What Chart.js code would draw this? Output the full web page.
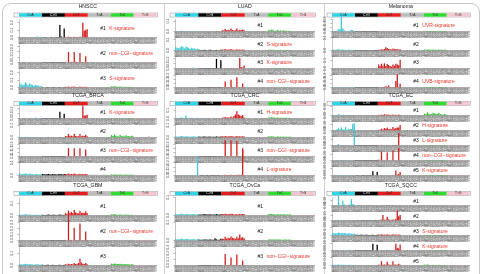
<!DOCTYPE html>
<html lang="en">
<head>
<meta charset="UTF-8">
<title>Mutation signatures per cancer type</title>
<script src="https://cdn.jsdelivr.net/npm/chart.js"></script>
<style>
  html, body { margin: 0; padding: 0; background: #fff; }
  #figure { position: relative; width: 483px; height: 274px; overflow: hidden; }
  #figure canvas { position: absolute; }
  .frame { position: absolute; left: 2px; top: 3px; width: 476px; height: 290px; border: 1px solid #c6c6c6; border-radius: 9px; }
  .vline { position: absolute; top: 4px; width: 1px; height: 270px; background: #d0d0d0; }
</style>
</head>
<body>
<div id="figure">
  <div class="frame"></div>
  <div class="vline" style="left:164px"></div>
  <div class="vline" style="left:324px"></div>
</div>
<script>
// mutation classes and trinucleotide contexts (x axis)
const CLASSES = ['C>A', 'C>G', 'C>T', 'T>A', 'T>C', 'T>G'];
const C_CONTEXTS = ['ACA','ACC','ACG','ACT','CCA','CCC','CCG','CCT','GCA','GCC','GCG','GCT','TCA','TCC','TCG','TCT'];
const T_CONTEXTS = ['ATA','ATC','ATG','ATT','CTA','CTC','CTG','CTT','GTA','GTC','GTG','GTT','TTA','TTC','TTG','TTT'];

// signature profiles, 6 classes x 16 contexts
const HNSCC_1 = [
  [.004,.003,.002,.004,.006,.004,.002,.005,.004,.003,.002,.006,.012,.008,.003,.010],
  [.002,.001,.001,.002,.003,.002,.001,.002,.002,.001,.001,.002,.170,.012,.004,.120],
  [.008,.004,.012,.006,.006,.005,.010,.006,.006,.004,.010,.005,.200,.090,.100,.110],
  [.002,.001,.001,.002,.001,.001,.001,.001,.001,.001,.001,.001,.002,.001,.001,.002],
  [.004,.002,.005,.003,.002,.002,.003,.002,.002,.001,.003,.002,.003,.002,.003,.002],
  [.001,.001,.001,.002,.001,.001,.001,.001,.001,.001,.001,.001,.002,.001,.001,.002]];
const HNSCC_2 = [
  [.006,.004,.008,.004,.005,.004,.006,.004,.005,.003,.006,.004,.004,.003,.005,.003],
  [.002,.001,.002,.001,.002,.001,.002,.001,.001,.001,.002,.001,.002,.001,.002,.002],
  [.012,.006,.200,.010,.014,.008,.200,.012,.010,.006,.180,.008,.010,.006,.120,.010],
  [.002,.001,.001,.002,.001,.001,.001,.001,.001,.001,.001,.001,.002,.001,.001,.002],
  [.012,.005,.010,.008,.004,.004,.006,.004,.006,.003,.006,.004,.005,.003,.004,.004],
  [.001,.001,.001,.001,.001,.001,.001,.001,.001,.001,.001,.001,.001,.001,.001,.001]];
const HNSCC_3 = [
  [.040,.050,.030,.040,.070,.050,.030,.055,.040,.035,.020,.035,.030,.025,.015,.025],
  [.008,.005,.004,.006,.007,.005,.003,.006,.006,.004,.003,.005,.006,.004,.003,.006],
  [.010,.008,.014,.008,.010,.009,.012,.008,.008,.007,.012,.007,.010,.008,.010,.008],
  [.006,.004,.004,.006,.004,.004,.004,.004,.004,.003,.004,.004,.005,.004,.003,.005],
  [.016,.012,.015,.013,.010,.009,.012,.009,.010,.007,.011,.008,.009,.007,.008,.008],
  [.004,.003,.003,.004,.003,.003,.003,.003,.003,.002,.003,.003,.004,.003,.003,.004]];
const LUAD_1 = [
  [.006,.004,.003,.005,.008,.006,.003,.006,.005,.004,.002,.004,.005,.004,.002,.004],
  [.003,.002,.002,.003,.003,.002,.002,.003,.002,.002,.002,.002,.004,.002,.002,.003],
  [.012,.010,.025,.012,.016,.012,.030,.014,.010,.012,.028,.010,.018,.014,.020,.012],
  [.003,.002,.002,.003,.002,.002,.002,.002,.002,.002,.002,.002,.003,.002,.002,.003],
  [.018,.010,.020,.012,.008,.008,.015,.008,.010,.006,.012,.008,.008,.006,.008,.006],
  [.002,.006,.002,.003,.002,.002,.002,.002,.002,.002,.002,.002,.003,.002,.002,.003]];
const LUAD_2 = [
  [.030,.025,.020,.028,.040,.032,.020,.035,.030,.026,.015,.025,.020,.018,.012,.018],
  [.008,.005,.004,.006,.007,.005,.003,.006,.006,.004,.003,.005,.006,.004,.003,.006],
  [.010,.008,.015,.008,.010,.009,.014,.008,.008,.007,.012,.007,.010,.008,.010,.008],
  [.005,.004,.004,.005,.004,.004,.004,.004,.004,.003,.004,.004,.005,.004,.003,.005],
  [.008,.006,.008,.007,.005,.005,.006,.005,.006,.004,.006,.005,.005,.004,.005,.005],
  [.003,.003,.003,.004,.003,.003,.003,.003,.003,.002,.003,.003,.004,.003,.003,.004]];
const LUAD_3 = [
  [.004,.003,.002,.004,.006,.005,.003,.006,.005,.004,.002,.004,.020,.005,.002,.006],
  [.002,.001,.001,.002,.002,.001,.001,.002,.002,.001,.001,.002,.200,.010,.004,.170],
  [.006,.004,.010,.006,.008,.005,.012,.006,.006,.004,.010,.005,.220,.030,.020,.060],
  [.002,.001,.001,.002,.001,.001,.001,.001,.001,.001,.001,.001,.002,.001,.001,.002],
  [.004,.002,.005,.003,.002,.002,.003,.002,.002,.001,.003,.002,.003,.002,.003,.002],
  [.001,.001,.001,.002,.001,.001,.001,.001,.001,.001,.001,.001,.002,.001,.001,.002]];
const LUAD_4 = [
  [.005,.004,.006,.004,.005,.004,.006,.004,.005,.003,.006,.004,.004,.003,.005,.003],
  [.002,.001,.002,.001,.002,.001,.002,.001,.001,.001,.002,.001,.002,.001,.002,.002],
  [.012,.008,.150,.010,.014,.008,.190,.012,.010,.006,.250,.008,.012,.008,.100,.010],
  [.002,.001,.001,.002,.001,.001,.001,.001,.001,.001,.001,.001,.002,.001,.001,.002],
  [.006,.015,.008,.006,.004,.004,.006,.004,.005,.003,.006,.004,.005,.003,.004,.004],
  [.001,.001,.001,.001,.001,.001,.001,.001,.001,.001,.001,.001,.001,.001,.001,.001]];
const MEL_1 = [
  [.010,.010,.015,.020,.050,.060,.360,.070,.040,.010,.008,.010,.020,.040,.035,.010],
  [.002,.002,.002,.002,.003,.002,.002,.002,.002,.002,.002,.002,.003,.002,.002,.002],
  [.004,.004,.006,.015,.005,.004,.006,.005,.004,.004,.006,.004,.005,.012,.005,.004],
  [.002,.001,.001,.002,.001,.001,.001,.001,.001,.001,.001,.001,.002,.001,.001,.002],
  [.003,.002,.003,.003,.002,.002,.003,.002,.002,.002,.003,.002,.002,.002,.002,.002],
  [.001,.001,.001,.002,.001,.001,.001,.001,.001,.001,.001,.001,.002,.001,.001,.002]];
const MEL_2 = [
  [.008,.006,.005,.007,.010,.008,.006,.008,.006,.005,.004,.006,.006,.005,.004,.005],
  [.004,.003,.003,.004,.004,.003,.003,.004,.003,.003,.003,.003,.004,.003,.003,.004],
  [.006,.005,.010,.008,.012,.025,.020,.012,.010,.008,.015,.010,.012,.010,.008,.010],
  [.003,.002,.002,.003,.002,.002,.002,.002,.002,.002,.002,.002,.003,.002,.002,.003],
  [.008,.006,.008,.007,.006,.006,.007,.006,.006,.005,.007,.006,.006,.005,.006,.006],
  [.002,.002,.002,.003,.002,.002,.002,.002,.002,.002,.002,.002,.003,.002,.002,.003]];
const MEL_3 = [
  [.004,.003,.003,.004,.005,.004,.003,.004,.004,.003,.002,.003,.004,.003,.002,.003],
  [.002,.002,.002,.002,.002,.002,.002,.002,.002,.002,.002,.002,.002,.002,.002,.002],
  [.050,.030,.060,.035,.065,.030,.055,.045,.030,.025,.050,.035,.060,.050,.040,.110],
  [.002,.001,.001,.002,.001,.001,.001,.001,.001,.001,.001,.001,.002,.001,.001,.002],
  [.003,.002,.003,.003,.002,.002,.003,.002,.002,.002,.003,.002,.002,.002,.002,.002],
  [.001,.001,.001,.002,.001,.001,.001,.001,.001,.001,.001,.001,.002,.001,.001,.002]];
const MEL_4 = [
  [.003,.002,.002,.003,.004,.003,.002,.003,.003,.002,.002,.002,.003,.002,.002,.002],
  [.002,.001,.001,.002,.002,.001,.001,.002,.001,.001,.001,.001,.002,.001,.001,.002],
  [.010,.008,.012,.010,.015,.030,.020,.050,.010,.008,.015,.012,.160,.330,.020,.100],
  [.002,.001,.001,.002,.001,.001,.001,.001,.001,.001,.001,.001,.002,.001,.001,.002],
  [.004,.002,.003,.003,.002,.002,.003,.002,.002,.002,.003,.002,.002,.002,.002,.002],
  [.001,.001,.001,.002,.001,.001,.001,.001,.001,.001,.001,.001,.002,.001,.001,.002]];
const BRCA_1 = [
  [.004,.003,.002,.004,.006,.004,.002,.005,.004,.003,.003,.020,.008,.006,.003,.006],
  [.002,.001,.001,.002,.003,.002,.001,.002,.002,.001,.001,.002,.140,.010,.004,.100],
  [.008,.004,.012,.006,.006,.005,.010,.006,.006,.004,.010,.005,.290,.060,.060,.080],
  [.002,.001,.001,.002,.001,.001,.001,.001,.001,.001,.001,.001,.002,.001,.001,.002],
  [.004,.002,.005,.003,.002,.002,.003,.002,.002,.001,.003,.002,.003,.002,.003,.002],
  [.001,.001,.001,.002,.001,.001,.001,.001,.001,.001,.001,.001,.002,.001,.001,.002]];
const BRCA_2 = [
  [.006,.004,.003,.005,.006,.005,.003,.005,.005,.004,.002,.004,.005,.004,.002,.004],
  [.003,.002,.002,.003,.003,.002,.002,.003,.002,.002,.002,.002,.004,.002,.002,.003],
  [.012,.010,.030,.012,.015,.010,.030,.012,.010,.010,.028,.010,.015,.012,.022,.010],
  [.003,.002,.002,.003,.002,.002,.002,.002,.002,.002,.002,.002,.003,.002,.002,.003],
  [.020,.012,.025,.015,.010,.008,.020,.010,.015,.008,.018,.010,.012,.008,.015,.010],
  [.004,.003,.003,.004,.003,.003,.003,.003,.003,.003,.012,.003,.004,.003,.003,.004]];
const BRCA_3 = [
  [.008,.006,.010,.006,.008,.006,.010,.006,.007,.005,.008,.006,.006,.005,.006,.005],
  [.002,.001,.002,.001,.002,.001,.002,.001,.001,.001,.002,.001,.002,.001,.002,.002],
  [.010,.006,.200,.008,.010,.006,.200,.010,.008,.006,.200,.006,.008,.006,.170,.008],
  [.002,.001,.001,.002,.001,.001,.001,.001,.001,.001,.001,.001,.002,.001,.001,.002],
  [.006,.004,.006,.005,.004,.004,.005,.004,.004,.003,.005,.004,.004,.003,.004,.004],
  [.001,.001,.001,.001,.001,.001,.001,.001,.001,.001,.001,.001,.001,.001,.001,.001]];
const BRCA_4 = [
  [.015,.012,.010,.014,.016,.013,.010,.015,.012,.011,.008,.012,.012,.010,.008,.011],
  [.012,.010,.008,.012,.012,.010,.008,.011,.010,.009,.008,.010,.012,.010,.008,.012],
  [.012,.010,.015,.010,.012,.010,.016,.010,.010,.009,.014,.009,.012,.010,.012,.010],
  [.006,.005,.005,.006,.005,.005,.005,.005,.005,.004,.005,.005,.006,.005,.004,.006],
  [.008,.006,.008,.007,.006,.006,.007,.006,.006,.005,.007,.006,.006,.005,.006,.006],
  [.004,.003,.003,.004,.003,.003,.003,.003,.003,.003,.003,.003,.004,.003,.003,.004]];
const CRC_1 = [
  [.006,.008,.004,.010,.012,.008,.006,.037,.008,.006,.004,.008,.006,.005,.004,.010],
  [.003,.002,.002,.003,.003,.002,.002,.003,.002,.002,.002,.002,.004,.002,.002,.003],
  [.010,.012,.020,.008,.015,.010,.025,.012,.030,.050,.090,.050,.040,.030,.045,.012],
  [.003,.002,.002,.003,.002,.002,.002,.002,.002,.002,.002,.002,.003,.002,.002,.003],
  [.015,.010,.020,.012,.008,.008,.012,.008,.010,.006,.010,.008,.008,.006,.008,.006],
  [.002,.002,.002,.003,.002,.002,.002,.002,.002,.002,.002,.002,.003,.002,.002,.003]];
const CRC_2 = [
  [.010,.008,.007,.010,.012,.010,.007,.011,.009,.008,.006,.009,.010,.008,.006,.008],
  [.008,.006,.006,.008,.009,.007,.006,.008,.007,.006,.006,.007,.009,.007,.006,.008],
  [.010,.008,.012,.008,.010,.009,.013,.009,.009,.008,.012,.008,.010,.008,.010,.008],
  [.005,.004,.004,.005,.004,.004,.004,.004,.004,.003,.004,.004,.005,.004,.003,.005],
  [.010,.008,.010,.009,.007,.007,.009,.007,.008,.006,.008,.007,.007,.006,.007,.006],
  [.004,.003,.003,.004,.003,.003,.003,.003,.003,.003,.003,.003,.004,.003,.003,.004]];
const CRC_3 = [
  [.006,.004,.006,.004,.005,.004,.006,.004,.005,.003,.006,.004,.004,.003,.005,.003],
  [.002,.001,.002,.001,.002,.001,.002,.001,.001,.001,.002,.001,.002,.001,.002,.002],
  [.010,.008,.390,.010,.012,.008,.390,.010,.010,.008,.380,.010,.010,.008,.150,.010],
  [.002,.001,.001,.002,.001,.001,.001,.001,.001,.001,.001,.001,.002,.001,.001,.002],
  [.005,.003,.005,.004,.003,.003,.004,.003,.003,.002,.004,.003,.003,.002,.003,.003],
  [.001,.001,.001,.001,.001,.001,.001,.001,.001,.001,.001,.001,.001,.001,.001,.001]];
const CRC_4 = [
  [.008,.006,.004,.008,.010,.008,.005,.010,.008,.006,.004,.010,.012,.010,.006,.440],
  [.003,.002,.002,.003,.003,.002,.002,.003,.002,.002,.002,.002,.004,.002,.002,.003],
  [.010,.008,.020,.010,.012,.010,.020,.010,.010,.008,.020,.010,.015,.012,.640,.012],
  [.002,.001,.001,.002,.001,.001,.001,.001,.001,.001,.001,.001,.002,.001,.001,.002],
  [.005,.004,.006,.004,.003,.003,.004,.003,.008,.002,.004,.003,.003,.002,.003,.003],
  [.001,.001,.001,.002,.001,.001,.001,.001,.001,.001,.001,.001,.002,.001,.001,.002]];
const EC_1 = [
  [.006,.005,.004,.006,.018,.008,.005,.008,.006,.005,.004,.006,.006,.005,.004,.005],
  [.002,.002,.002,.002,.002,.002,.002,.002,.002,.002,.002,.002,.002,.002,.002,.002],
  [.008,.006,.010,.006,.015,.008,.012,.008,.008,.006,.010,.006,.008,.006,.012,.006],
  [.003,.002,.002,.003,.002,.002,.002,.002,.002,.002,.002,.002,.003,.002,.002,.003],
  [.020,.015,.035,.020,.015,.018,.030,.022,.020,.015,.030,.018,.012,.010,.015,.010],
  [.003,.002,.002,.003,.002,.002,.002,.002,.002,.002,.002,.002,.003,.002,.002,.003]];
const EC_2 = [
  [.010,.010,.008,.020,.040,.015,.050,.020,.015,.060,.010,.030,.020,.025,.110,.015],
  [.004,.003,.003,.004,.004,.003,.003,.004,.003,.003,.003,.003,.004,.003,.003,.004],
  [.010,.012,.030,.015,.040,.030,.050,.020,.030,.020,.060,.030,.040,.050,.050,.090],
  [.003,.002,.002,.003,.002,.002,.002,.002,.002,.002,.002,.002,.003,.002,.002,.003],
  [.008,.006,.008,.007,.006,.006,.007,.006,.006,.005,.007,.006,.006,.005,.006,.006],
  [.003,.002,.002,.003,.002,.002,.002,.002,.002,.002,.002,.002,.003,.002,.002,.003]];
const EC_3 = [
  [.010,.006,.005,.010,.050,.010,.006,.012,.010,.008,.005,.010,.012,.010,.008,.740],
  [.003,.002,.002,.003,.003,.002,.002,.003,.002,.002,.002,.002,.004,.002,.002,.003],
  [.010,.008,.020,.010,.012,.010,.020,.010,.010,.008,.020,.010,.015,.012,.420,.012],
  [.002,.001,.001,.002,.001,.001,.001,.001,.001,.001,.001,.001,.002,.001,.001,.002],
  [.005,.004,.006,.004,.003,.003,.004,.003,.004,.002,.004,.003,.003,.002,.003,.003],
  [.001,.001,.001,.002,.001,.001,.001,.001,.001,.001,.001,.001,.002,.001,.001,.002]];
const EC_4 = [
  [.006,.004,.006,.004,.008,.020,.006,.004,.005,.003,.006,.004,.004,.003,.005,.003],
  [.002,.001,.002,.001,.002,.001,.002,.001,.001,.001,.002,.001,.002,.001,.002,.002],
  [.030,.008,.290,.010,.012,.008,.270,.010,.010,.008,.330,.010,.012,.010,.420,.010],
  [.002,.001,.001,.002,.001,.001,.001,.001,.001,.001,.001,.001,.002,.001,.001,.002],
  [.005,.003,.005,.004,.003,.003,.004,.003,.003,.002,.004,.003,.003,.002,.003,.003],
  [.001,.001,.001,.001,.001,.001,.001,.001,.001,.001,.001,.001,.001,.001,.001,.001]];
const EC_5 = [
  [.012,.010,.008,.012,.015,.012,.010,.014,.012,.010,.008,.010,.012,.010,.008,.010],
  [.004,.003,.003,.004,.004,.003,.003,.004,.003,.003,.003,.003,.120,.010,.005,.100],
  [.008,.006,.010,.006,.008,.006,.010,.006,.006,.005,.010,.006,.140,.030,.040,.100],
  [.003,.002,.002,.003,.002,.002,.002,.002,.002,.002,.002,.002,.003,.002,.002,.003],
  [.004,.003,.004,.003,.003,.003,.003,.003,.003,.002,.003,.003,.003,.002,.003,.003],
  [.002,.001,.001,.002,.001,.001,.001,.001,.001,.001,.001,.001,.002,.001,.001,.002]];
const GBM_1 = [
  [.008,.006,.005,.008,.010,.008,.006,.008,.007,.006,.005,.007,.007,.006,.005,.006],
  [.006,.005,.004,.006,.008,.006,.005,.007,.006,.005,.004,.006,.008,.006,.005,.007],
  [.020,.015,.040,.020,.030,.020,.045,.025,.020,.018,.040,.020,.025,.020,.035,.020],
  [.004,.003,.003,.004,.003,.003,.003,.003,.003,.003,.003,.003,.004,.003,.003,.004],
  [.010,.008,.012,.008,.006,.006,.008,.006,.007,.005,.008,.006,.006,.005,.006,.005],
  [.004,.003,.003,.004,.003,.003,.003,.003,.003,.003,.003,.003,.004,.003,.003,.004]];
const GBM_2 = [
  [.006,.004,.006,.004,.005,.004,.006,.004,.005,.003,.006,.004,.004,.003,.005,.003],
  [.002,.001,.002,.001,.002,.001,.002,.001,.001,.001,.002,.001,.002,.001,.002,.002],
  [.010,.006,.420,.008,.010,.006,.210,.010,.008,.006,.280,.006,.008,.006,.150,.008],
  [.002,.001,.001,.002,.001,.001,.001,.001,.001,.001,.001,.001,.002,.001,.001,.002],
  [.005,.003,.005,.004,.003,.003,.004,.003,.003,.002,.004,.003,.003,.002,.003,.003],
  [.001,.001,.001,.001,.001,.001,.001,.001,.001,.001,.001,.001,.001,.001,.001,.001]];
const GBM_3 = [
  [.012,.010,.008,.012,.014,.012,.008,.012,.010,.009,.007,.010,.010,.009,.007,.009],
  [.006,.005,.004,.006,.006,.005,.004,.006,.005,.004,.004,.005,.006,.005,.004,.006],
  [.010,.008,.015,.010,.012,.010,.020,.012,.015,.020,.055,.025,.015,.012,.020,.010],
  [.004,.003,.003,.004,.003,.003,.003,.003,.003,.003,.003,.003,.004,.003,.003,.004],
  [.015,.012,.016,.014,.012,.012,.014,.010,.012,.010,.012,.010,.010,.008,.010,.008],
  [.005,.004,.004,.005,.004,.004,.004,.004,.004,.003,.004,.004,.005,.004,.004,.005]];
const OVCA_1 = [
  [.008,.007,.006,.008,.010,.008,.006,.009,.008,.007,.005,.007,.008,.006,.005,.007],
  [.006,.005,.005,.006,.008,.006,.005,.007,.006,.005,.005,.006,.008,.006,.005,.007],
  [.008,.007,.010,.007,.008,.007,.010,.008,.007,.006,.009,.006,.008,.007,.008,.007],
  [.004,.003,.003,.004,.003,.003,.003,.003,.003,.003,.003,.003,.004,.003,.003,.004],
  [.008,.007,.008,.007,.006,.006,.007,.006,.006,.005,.007,.006,.006,.005,.006,.006],
  [.003,.003,.003,.003,.003,.003,.003,.003,.003,.003,.003,.003,.003,.003,.003,.003]];
const OVCA_2 = [
  [.008,.007,.006,.008,.010,.008,.006,.009,.008,.007,.005,.007,.008,.006,.005,.007],
  [.005,.004,.004,.005,.006,.005,.004,.006,.005,.004,.004,.012,.006,.004,.004,.010],
  [.010,.008,.020,.010,.015,.012,.022,.015,.012,.010,.020,.012,.033,.015,.018,.012],
  [.003,.003,.003,.003,.003,.003,.003,.003,.003,.003,.003,.003,.003,.003,.003,.003],
  [.006,.005,.006,.005,.005,.005,.006,.005,.005,.004,.005,.005,.005,.004,.005,.004],
  [.003,.002,.002,.003,.002,.002,.002,.002,.002,.002,.002,.002,.003,.002,.002,.003]];
const OVCA_3 = [
  [.006,.004,.006,.004,.005,.004,.006,.004,.005,.003,.006,.004,.004,.003,.005,.003],
  [.002,.001,.002,.001,.002,.001,.002,.001,.001,.001,.002,.001,.002,.001,.002,.002],
  [.010,.006,.190,.008,.010,.006,.130,.010,.008,.006,.180,.006,.008,.006,.080,.008],
  [.002,.001,.001,.002,.001,.001,.001,.001,.001,.001,.001,.001,.002,.001,.001,.002],
  [.006,.004,.006,.005,.004,.004,.005,.004,.004,.003,.005,.004,.004,.003,.004,.004],
  [.001,.001,.001,.001,.001,.001,.001,.001,.001,.001,.001,.001,.001,.001,.001,.001]];
const SQCC_1 = [
  [.010,.008,.006,.010,.180,.015,.010,.090,.020,.012,.008,.015,.020,.120,.030,.015],
  [.004,.003,.003,.004,.004,.003,.003,.004,.003,.003,.003,.003,.004,.003,.003,.004],
  [.006,.005,.008,.006,.006,.005,.008,.006,.006,.005,.008,.005,.006,.005,.006,.005],
  [.003,.002,.002,.003,.002,.002,.002,.002,.002,.002,.002,.002,.003,.002,.002,.003],
  [.004,.003,.004,.003,.003,.003,.003,.003,.003,.002,.003,.003,.003,.002,.003,.003],
  [.002,.001,.001,.002,.001,.001,.001,.001,.001,.001,.001,.001,.002,.001,.001,.002]];
const SQCC_2 = [
  [.006,.005,.004,.006,.015,.008,.005,.008,.006,.005,.004,.006,.006,.005,.004,.005],
  [.003,.002,.002,.003,.003,.002,.002,.003,.002,.002,.002,.002,.004,.002,.002,.003],
  [.010,.012,.015,.100,.015,.012,.070,.020,.012,.010,.020,.012,.030,.190,.080,.100],
  [.002,.001,.001,.002,.001,.001,.001,.001,.001,.001,.001,.001,.002,.001,.001,.002],
  [.004,.003,.004,.003,.003,.003,.003,.003,.003,.002,.003,.003,.003,.002,.003,.003],
  [.002,.001,.001,.002,.001,.001,.001,.001,.001,.001,.001,.001,.002,.001,.001,.002]];
const SQCC_3 = [
  [.030,.028,.025,.030,.035,.032,.025,.034,.030,.028,.020,.028,.025,.022,.018,.024],
  [.010,.008,.007,.009,.010,.008,.006,.009,.008,.007,.006,.008,.009,.007,.006,.008],
  [.012,.010,.015,.010,.012,.010,.015,.010,.010,.009,.014,.009,.012,.010,.012,.010],
  [.006,.005,.005,.006,.005,.005,.005,.005,.005,.004,.005,.005,.006,.005,.004,.006],
  [.008,.006,.008,.007,.006,.006,.007,.006,.006,.005,.007,.006,.006,.005,.006,.006],
  [.004,.003,.003,.004,.003,.003,.003,.003,.003,.003,.003,.003,.004,.003,.003,.004]];
const SQCC_4 = [
  [.006,.004,.003,.005,.006,.005,.003,.005,.005,.004,.003,.004,.020,.005,.003,.005],
  [.002,.001,.001,.002,.002,.001,.001,.002,.002,.001,.001,.002,.200,.010,.005,.170],
  [.006,.004,.010,.006,.008,.005,.012,.006,.006,.004,.010,.005,.200,.080,.060,.180],
  [.002,.001,.001,.002,.001,.001,.001,.001,.001,.001,.001,.001,.002,.001,.001,.002],
  [.008,.004,.006,.004,.003,.003,.004,.003,.003,.002,.004,.003,.003,.002,.003,.003],
  [.001,.001,.001,.002,.001,.001,.001,.001,.001,.001,.001,.001,.002,.001,.001,.002]];
const SQCC_5 = [
  [.008,.010,.008,.010,.012,.010,.008,.010,.008,.007,.006,.008,.008,.007,.006,.007],
  [.003,.002,.002,.003,.003,.002,.002,.003,.002,.002,.002,.002,.004,.002,.002,.003],
  [.010,.008,.050,.010,.012,.010,.045,.012,.010,.008,.050,.010,.012,.010,.020,.010],
  [.002,.001,.001,.002,.001,.001,.001,.001,.001,.001,.001,.001,.002,.001,.001,.002],
  [.010,.008,.012,.008,.006,.006,.008,.006,.007,.005,.008,.006,.006,.005,.006,.005],
  [.002,.001,.001,.002,.001,.001,.001,.001,.001,.001,.001,.001,.002,.001,.001,.002]];

// panels, read left to right, top to bottom
const PANEL_TITLES = ['HNSCC', 'LUAD', 'Melanoma', 'TCGA_BRCA', 'TCGA_CRC', 'TCGA_EC', 'TCGA_GBM', 'TCGA_OvCa', 'TCGA_SQCC'];
const PANEL_DATA = [
  [HNSCC_1, HNSCC_2, HNSCC_3],
  [LUAD_1, LUAD_2, LUAD_3, LUAD_4],
  [MEL_1, MEL_2, MEL_3, MEL_4],
  [BRCA_1, BRCA_2, BRCA_3, BRCA_4],
  [CRC_1, CRC_2, CRC_3, CRC_4],
  [EC_1, EC_2, EC_3, EC_4, EC_5],
  [GBM_1, GBM_2, GBM_3],
  [OVCA_1, OVCA_2, OVCA_3],
  [SQCC_1, SQCC_2, SQCC_3, SQCC_4, SQCC_5]
];
const PANEL_SIGS = [
  ['K-signature', 'non\u2212CGI\u2212signature', 'S-signature'],
  ['', 'S-signature', 'K-signature', 'non\u2212CGI\u2212signature'],
  ['UVR-signature', '', '', 'UVB-signature'],
  ['K-signature', '', 'non\u2212CGI\u2212signature', ''],
  ['H-signature', '', 'non\u2212CGI\u2212signature', 'L-signature'],
  ['', 'H-signature', 'L-signature', 'non\u2212CGI\u2212signature', 'K-signature'],
  ['', 'non\u2212CGI\u2212signature', ''],
  ['', '', 'non\u2212CGI\u2212signature'],
  ['', '', 'S-signature', 'K-signature', '']
];
const Y_MAX = [
  [.25, .35, .25], [.12, .12, .25, .3], [.3, .1, .15, .3],
  [.25, .1, .3, .1], [.15, .1, .3, .3], [.1, .15, .3, .3, .25],
  [.15, .3, .15], [.1, .1, .3], [.15, .15, .1, .25, .1]
];
const Y_STEP = [
  [.1, .1, .1], [.1, .1, .1, .1], [.1, .1, .1, .1],
  [.1, .1, .1, .1], [.1, .1, .1, .1], [.1, .1, .2, .2, .2],
  [.1, .1, .1], [.1, .1, .1], [.1, .1, .1, .2, .1]
];
const Y_DIGITS = [1, 1, 1, 1, 1, 2, 1, 1, 2];

// colours
const BAR_COLORS = ['#3cc8d6', '#000000', '#d21f1f', '#aeaeae', '#2ec22e', '#eab2c2'];
const HEAD_COLORS = ['#2fd6e8', '#000000', '#e61e1e', '#bcbcbc', '#2fdc2f', '#f5c6d2'];
const HEAD_TEXT = ['#1a1a1a', '#ffffff', '#1a1a1a', '#1a1a1a', '#1a1a1a', '#1a1a1a'];

// layout
const COL_LEFT = [19, 175, 332];
const COL_W = [138, 140, 138];
const PANEL_TOP = [0, 89, 179];
const TITLE_Y = [7, 95.5, 185.5];
const HEAD_Y = [13, 101.5, 191.5];
const PLOT_TOP = [19, 106.5, 197.5];
const PLOT_BOTTOM = [94, 181.5, 272];
const BAND = 6.5;
const YAXIS_W = 12;
const FONT = '"Liberation Sans", Arial, sans-serif';

const labels = CLASSES.flatMap(cl => cl[0] === 'C' ? C_CONTEXTS : T_CONTEXTS);
const barColors = CLASSES.flatMap((cl, k) => Array(16).fill(BAR_COLORS[k]));

function rowPlugin(info) {
  return {
    id: 'rowDeco',
    beforeDraw(chart) {
      const {ctx, chartArea: a} = chart;
      ctx.save();
      ctx.fillStyle = '#d5d5d5';
      ctx.fillRect(a.left, a.bottom, a.right - a.left, BAND);
      ctx.restore();
    },
    afterDraw(chart) {
      const {ctx, chartArea: a, scales: {y}} = chart;
      ctx.save();
      // y tick labels, written along the axis
      ctx.font = '3.6px ' + FONT;
      ctx.fillStyle = '#444';
      ctx.textAlign = 'center';
      ctx.textBaseline = 'middle';
      y.ticks.forEach(t => {
        ctx.save();
        ctx.translate(a.left - 7, y.getPixelForValue(t.value));
        ctx.rotate(-Math.PI / 2);
        ctx.fillText(t.value.toFixed(info.digits), 0, 0);
        ctx.restore();
      });
      // "#n  X-signature"
      const ly = (a.top + a.bottom) / 2;
      const lx = a.left + (a.right - a.left) * 0.59;
      const num = '#' + info.num;
      ctx.font = '5px ' + FONT;
      ctx.textAlign = 'left';
      ctx.fillStyle = '#111';
      ctx.fillText(num, lx, ly);
      if (info.sig) {
        ctx.fillStyle = '#e8372c';
        ctx.fillText(info.sig, lx + ctx.measureText(num).width + 3.5, ly);
      }
      // panel title and mutation-class strip
      if (info.header) {
        const w = a.right - a.left;
        ctx.textAlign = 'center';
        ctx.fillStyle = '#1a1a1a';
        ctx.font = '5.2px ' + FONT;
        ctx.fillText(info.title, a.left + w / 2, info.titleY);
        const hy = info.headY;
        ctx.fillStyle = '#fff';
        ctx.fillRect(a.left - 5, hy, w + 6, 4);
        ctx.strokeStyle = '#8c8c8c';
        ctx.lineWidth = 0.5;
        ctx.strokeRect(a.left - 5, hy, w + 6, 4);
        ctx.font = '3.2px ' + FONT;
        CLASSES.forEach((cl, k) => {
          const x0 = a.left + k * w / 6;
          ctx.fillStyle = HEAD_COLORS[k];
          ctx.fillRect(x0, hy + 0.3, w / 6, 3.4);
          ctx.fillStyle = HEAD_TEXT[k];
          ctx.fillText(cl, x0 + w / 12, hy + 2.1);
        });
      }
      ctx.restore();
    }
  };
}

const fig = document.getElementById('figure');
PANEL_TITLES.forEach((title, p) => {
  const r = Math.floor(p / 3), c = p % 3;
  const rows = PANEL_DATA[p];
  const pitch = (PLOT_BOTTOM[r] - PLOT_TOP[r]) / rows.length;
  rows.forEach((sig, i) => {
    const top = PANEL_TOP[r];
    const rowTop = PLOT_TOP[r] + i * pitch;
    const canvas = document.createElement('canvas');
    canvas.width = YAXIS_W + COL_W[c] + 3;
    canvas.height = Math.round(rowTop + pitch - top);
    canvas.style.left = (COL_LEFT[c] - YAXIS_W) + 'px';
    canvas.style.top = top + 'px';
    fig.appendChild(canvas);

    new Chart(canvas, {
      type: 'bar',
      data: {
        labels: labels,
        datasets: [{
          data: sig.flat(),
          backgroundColor: barColors,
          barPercentage: 0.9,
          categoryPercentage: 1,
          clip: false
        }]
      },
      options: {
        responsive: false,
        animation: false,
        devicePixelRatio: 1,
        events: [],
        layout: { autoPadding: false, padding: { top: rowTop - top, right: 3, left: 0, bottom: 0 } },
        plugins: { legend: { display: false }, tooltip: { enabled: false } },
        scales: {
          x: {
            grid: { display: false, drawTicks: false },
            border: { display: true, color: '#777', width: 0.6 },
            ticks: {
              autoSkip: false, minRotation: 90, maxRotation: 90, padding: 0.4,
              color: '#808080', font: { size: 3, family: FONT }
            },
            afterFit: s => { s.height = BAND; }
          },
          y: {
            min: 0,
            max: Y_MAX[p][i],
            grid: { drawOnChartArea: false, tickLength: 1.5, color: '#666', lineWidth: 0.5 },
            border: { display: true, color: '#888', width: 0.5 },
            ticks: { stepSize: Y_STEP[p][i], includeBounds: false, display: false },
            afterFit: s => { s.width = YAXIS_W; }
          }
        }
      },
      plugins: [rowPlugin({
        num: i + 1,
        sig: PANEL_SIGS[p][i],
        digits: Y_DIGITS[p],
        header: i === 0,
        title: title,
        titleY: TITLE_Y[r] - top,
        headY: HEAD_Y[r] - top
      })]
    });
  });
});
</script>
</body>
</html>
